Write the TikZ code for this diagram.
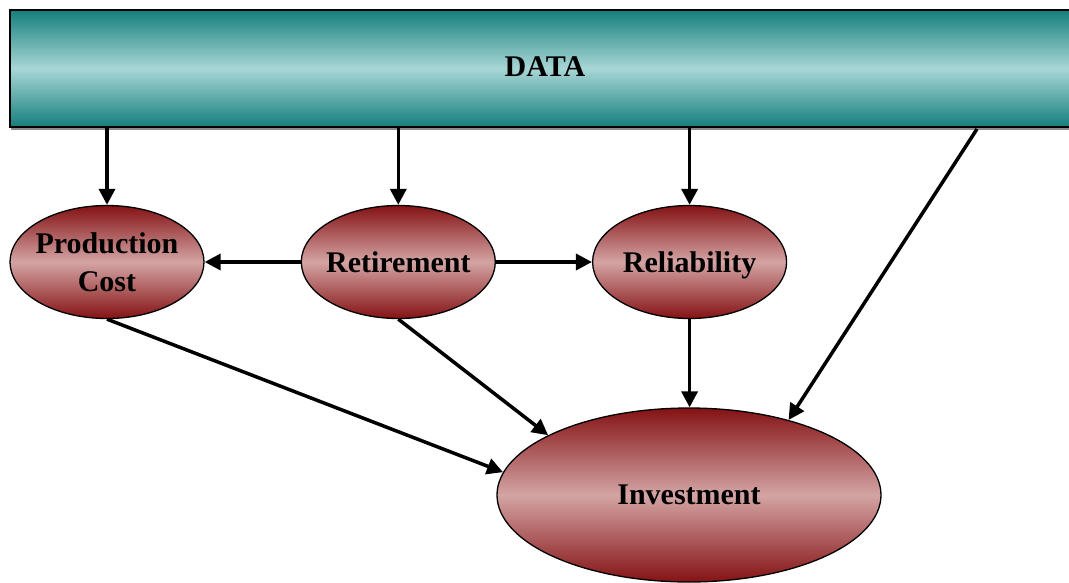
\documentclass[tikz,border=0pt]{standalone}
\usepackage{fontspec}
\setmainfont{Liberation Serif}
\usepackage{tikz}
\usetikzlibrary{shapes.geometric, positioning, arrows.meta, shadows}
\definecolor{tealdark}{RGB}{22, 126, 124}
\definecolor{teallight}{RGB}{168, 214, 213}
\definecolor{wine}{RGB}{132, 18, 20}
\definecolor{blush}{RGB}{212, 164, 164}

\begin{document}
\begin{tikzpicture}[
  x=1pt, y=-1pt,
  font=\fontsize{30}{38}\selectfont\bfseries,
  bar/.style={
    rectangle, draw=black, line width=1.6pt, inner sep=0pt,
    top color=tealdark, bottom color=tealdark, middle color=teallight,
    minimum width=1070pt, minimum height=117pt, text depth=3pt,
    drop shadow={shadow xshift=1pt, shadow yshift=-3pt, fill=black!45, opacity=1}
  },
  % negative inner sep keeps the ellipse at its minimum size
  bubble/.style={
    ellipse, draw=black, line width=1.3pt, inner xsep=-30pt, inner ysep=-12pt,
    align=center, text depth=0pt,
    top color=wine, bottom color=wine, middle color=blush,
    minimum width=194pt, minimum height=113pt
  },
  big/.style={bubble, minimum width=384pt, minimum height=174pt},
  arrow/.style={-{Triangle[length=16pt, width=16pt]}, line width=3.5pt}
]
\useasboundingbox (0,0) rectangle (1069,582);

\node[bar] (data) at (545,68.5) {DATA};

\node[bubble] (prod) at (107,262) {Production\\Cost};
\node[bubble, right=96pt of prod] (retire) {Retirement};
\node[bubble, right=96pt of retire] (rel) {Reliability};
\node[big] (inv) at (689,495) {Investment};

% feeds from the data bar
\coordinate (tap) at (977,129);
\draw[arrow] (data.south -| prod.north) -- (prod.north);
\draw[arrow] (data.south -| retire.north) -- (retire.north);
\draw[arrow] (data.south -| rel.north) -- (rel.north);
\draw[arrow] (tap) -- (inv.37);

% links between the estimates
\draw[arrow] (retire.west) -- (prod.east);
\draw[arrow] (retire.east) -- (rel.west);
\draw[arrow] (prod.south) -- (inv.173);
\draw[arrow] (retire.south) -- (inv.157);
\draw[arrow] (rel.south) -- (rel.south |- inv.north);
\end{tikzpicture}
\end{document}
